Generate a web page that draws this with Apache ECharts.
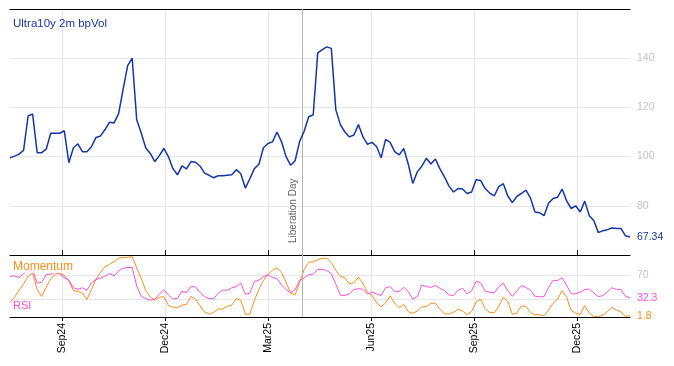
<!DOCTYPE html>
<html><head><meta charset="utf-8">
<script src="https://cdn.jsdelivr.net/npm/echarts@6/dist/echarts.min.js"></script>
<style>html,body{margin:0;padding:0;background:#fff}#c{width:674px;height:366px}</style>
</head><body><div id="c"></div>
<script>
// ---- data ----
const startDate = '2024-07-18';
const stepDays = 4;
const volValues = [
 99.5,100.2,101,102.5,116.5,117.3,101.6,101.6,103,109.5,
 109.5,109.5,110.5,97.5,103.5,105.2,102,102,104,107.8,
 108.4,111,114,113.7,117.5,127.4,137,140,115,109.6,
 103.5,101.3,98,100.4,103.3,100,95.1,92.6,96.2,95,
 98,97.7,96.1,93.3,92.4,91.4,92.2,92.2,92.4,92.6,
 94.7,93,87.2,91,95.1,96.9,103.6,105.3,106,110,
 106,100,96.5,98.3,106.2,110.3,116.2,117,142.2,143.5,
 144.6,144,119,113,110,108,108.8,113,108,105,
 105.8,104.1,99.5,107,105.8,102,100.7,103.3,97,89.1,
 93.8,96.1,99.3,97,99,95,91.8,88,85.6,87,
 86.8,85,85.6,90.6,90.3,87,85.2,84,87.8,89,
 84,81.3,83.8,85,86.4,83.2,77.5,77.2,76,81,
 83,83.5,86.8,82,78.9,80,77.5,81.9,76,74,
 69.1,69.9,70.3,71,70.8,70.8,67.8,67.34
];
const rsiValues = [
 68,69,66,73,76,79,57,58,71,72,
 76,72,66,62,49,46.5,49,45,57,63,
 65,68.5,73,69,77,82,83,83,52,35,
 31,28,30,38,46,37,30,31.5,43,41,
 51,50.5,41,34,31,30.6,40,45,45,49,
 51,57,38,40,59.6,62,67.5,71,66,64.5,
 53.5,46,40.6,46,61,65.4,71,72,79.9,79.9,
 78,73,55,36.5,36,39,46,47.5,46.5,38.5,
 42,38.5,36,49,51,43,43,50,42.5,30,
 34,53.8,51,49.7,53,48,44.5,37,36,45,
 48,39,44,60,57,43.5,41.6,40.4,51,56.7,
 44,34.5,44,52.5,49.7,45,34.6,34,34,49.5,
 61.5,61.2,66,53,39,39,42,46,47,40.5,
 34,36,42,49,46.3,46.5,34.6,32.3
];
const momValues = [
 24,33,45,55,68.5,74,46,34.5,50,64,
 72,74,70,60,44.5,43,40,29.5,46,63,
 75,84,88.5,92.5,98.4,100,100,101.3,82,65,
 44,33.5,28,33,34,19.5,16.3,15.5,20,21,
 34.5,30,18.5,8.5,4.6,8,13.5,13.2,18,20,
 30.6,28,4.5,5,27.7,46,61,71.5,78.5,82.5,
 75,58,40.5,37,58.5,79.5,92,92.4,96,98.5,
 98.4,91.4,78,68.6,65.6,55.5,57.5,67,56,41,
 36,24,17,23.5,35.5,23,15.5,21,9,6,
 10,17,17.5,23,23,13,5.5,5,8,13,
 10,4,9,25.5,29.5,14,7.4,7.4,17.5,33.5,
 26,4.5,6.5,18.5,18,7.5,3.4,4,2,11.5,
 23,30,44,33,11,6.5,4,19,7,1,
 0.3,3.5,9,16,12,8.5,1.6,1.8
];
const tickDates = ['2024-09-02','2024-12-02','2025-03-03','2025-06-02','2025-09-01','2025-12-01'];
const tickLabels = ['Sep24','Dec24','Mar25','Jun25','Sep25','Dec25'];
const volTickValues = [80,100,120,140];
const oscGridValues = [30,70];
const oscLabelValues = [70];
const eventDate = '2025-04-02';
const eventName = 'Liberation Day';
const titleText = 'Ultra10y 2m bpVol';
const momName = 'Momentum';
const rsiName = 'RSI';

// ---- build: x is the number of days since startDate ----
const DAY = 86400000;
const ts = s => Date.parse(s + 'T00:00:00Z');
const t0 = ts(startDate);
const dayOf = s => Math.round((ts(s) - t0) / DAY);
const days = volValues.map((_, i) => i * stepDays);
const xMin = days[0], xMax = days[days.length - 1];
const tickDays = tickDates.map(dayOf);
const eventDay = dayOf(eventDate);
const pair = arr => arr.map((v, i) => [days[i], v]);

const FONT = 'Liberation Sans';
const BLUE = '#1536a6', PINK = '#ff4fd6', ORANGE = '#ff8c1a';
const GRID = '#e6e6e6', AXIS = '#000';

function fmtTick(v) {
  const i = tickDays.indexOf(Math.round(v));
  return i >= 0 ? tickLabels[i] : '';
}

const chart = echarts.init(document.getElementById('c'), null, {renderer: 'canvas'});
chart.setOption({
  animation: false,
  textStyle: {fontFamily: FONT},
  grid: [
    {left: 10, right: 44, top: 9, height: 246},
    {left: 10, right: 44, top: 255, height: 62}
  ],
  xAxis: [
    {gridIndex: 0, type: 'value', position: 'bottom', min: xMin, max: xMax,
     axisLine: {show: true, onZero: false, lineStyle: {color: AXIS, width: 1}},
     axisTick: {show: true, inside: true, length: 5, customValues: tickDays, lineStyle: {color: AXIS}},
     axisLabel: {show: false, customValues: tickDays},
     splitLine: {show: true, lineStyle: {color: GRID, width: 1}}},
    {gridIndex: 0, type: 'value', position: 'top', min: xMin, max: xMax,
     axisLine: {show: true, onZero: false, lineStyle: {color: AXIS, width: 1}},
     axisTick: {show: false}, axisLabel: {show: false}, splitLine: {show: false}},
    {gridIndex: 1, type: 'value', position: 'bottom', min: xMin, max: xMax,
     axisLine: {show: true, onZero: false, lineStyle: {color: AXIS, width: 1}},
     axisTick: {show: true, inside: false, length: 4, customValues: tickDays, lineStyle: {color: AXIS}},
     axisLabel: {show: true, customValues: tickDays, rotate: 90, margin: 6, color: '#000',
                 fontSize: 10.5, fontFamily: FONT, formatter: v => fmtTick(v)},
     splitLine: {show: true, lineStyle: {color: GRID, width: 1}}}
  ],
  yAxis: [
    {gridIndex: 0, type: 'value', position: 'right', min: 60, max: 160,
     axisLine: {show: false}, axisTick: {show: false, customValues: volTickValues},
     axisLabel: {show: true, customValues: volTickValues, color: '#c4c4c4', fontSize: 10.5, margin: 7, fontFamily: FONT},
     splitLine: {show: true, lineStyle: {color: GRID, width: 1}}},
    {gridIndex: 1, type: 'value', position: 'right', min: 0, max: 104,
     axisLine: {show: false}, axisTick: {show: false, customValues: oscGridValues},
     axisLabel: {show: true, customValues: oscLabelValues, color: '#c4c4c4', fontSize: 10.5, margin: 7, fontFamily: FONT},
     splitLine: {show: true, lineStyle: {color: GRID, width: 1}}}
  ],
  series: [
    {name: 'vol', type: 'line', xAxisIndex: 0, yAxisIndex: 0, data: pair(volValues),
     showSymbol: false, lineStyle: {color: BLUE, width: 1.5}, z: 5,
     endLabel: {show: true, formatter: p => p.value[1].toFixed(2), color: BLUE, fontSize: 10.5, distance: 7, fontFamily: FONT},
     markLine: {silent: true, symbol: 'none', lineStyle: {color: '#b4b4b4', width: 1, type: 'solid'},
       label: {show: true, formatter: eventName, position: 'insideStartTop', color: '#666', fontSize: 10, fontFamily: FONT, distance: [12, 4]},
       data: [{xAxis: eventDay}]}},
    {name: rsiName, type: 'line', xAxisIndex: 2, yAxisIndex: 1, data: pair(rsiValues),
     showSymbol: false, lineStyle: {color: PINK, width: 1}, z: 4,
     endLabel: {show: true, formatter: p => p.value[1].toFixed(1), color: PINK, fontSize: 10.5, distance: 7, fontFamily: FONT},
     markLine: {silent: true, symbol: 'none', lineStyle: {color: '#b4b4b4', width: 1, type: 'solid'},
       label: {show: false}, data: [{xAxis: eventDay}]}},
    {name: momName, type: 'line', xAxisIndex: 2, yAxisIndex: 1, data: pair(momValues),
     showSymbol: false, lineStyle: {color: ORANGE, width: 1}, z: 3,
     endLabel: {show: true, formatter: p => p.value[1].toFixed(1), color: ORANGE, fontSize: 10.5, distance: 7, fontFamily: FONT}}
  ],
  graphic: [
    {type: 'text', left: 13, top: 18, z: 100,
     style: {text: titleText, fill: BLUE, font: '11.5px "Liberation Sans"'}},
    {type: 'text', left: 12, top: 261, z: 100,
     style: {text: momName, fill: ORANGE, font: '12px "Liberation Sans"', backgroundColor: 'rgba(255,255,255,0.8)', padding: [0, 1]}},
    {type: 'text', left: 12, top: 300, z: 100,
     style: {text: rsiName, fill: PINK, font: '11px "Liberation Sans"', backgroundColor: 'rgba(255,255,255,0.8)', padding: [0, 1]}}
  ]
});
</script>
</body></html>
